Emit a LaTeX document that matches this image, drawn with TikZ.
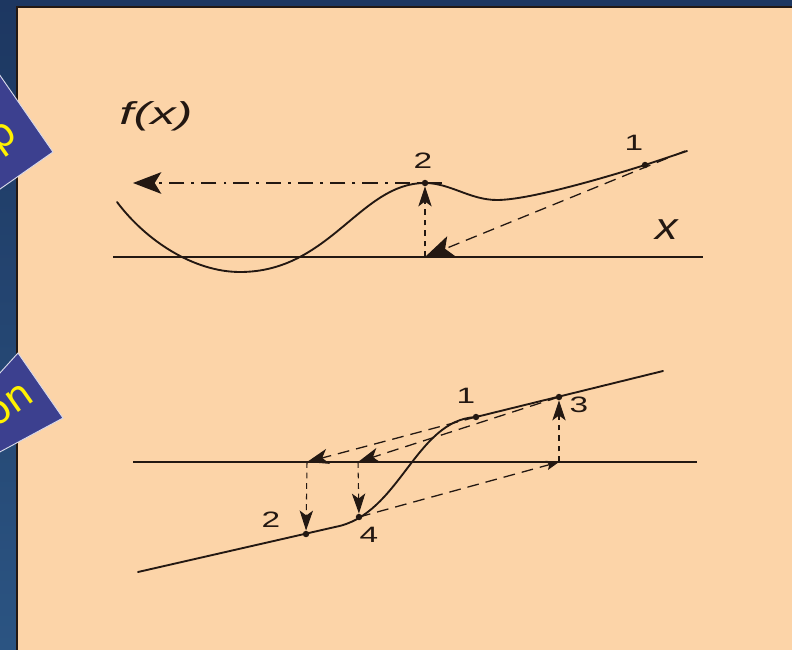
\documentclass[tikz,border=0pt]{standalone}
\usepackage{fontspec}
\setmainfont{Liberation Sans}
\newfontfamily\tagfont{DejaVu Sans}
\usetikzlibrary{arrows.meta}
\definecolor{ink}{RGB}{35,24,18}
\definecolor{peach}{RGB}{252,212,168}
\definecolor{bgtop}{RGB}{29,55,97}
\definecolor{bgbot}{RGB}{43,84,130}
\definecolor{tagblue}{RGB}{60,64,143}
\newcommand{\widetext}[2]{\scalebox{#1}[1]{#2}}
\tikzset{
    % line styles
    curve/.style={draw=ink, line width=1.6pt, line cap=round, line join=round},
    axis/.style={draw=ink, line width=1.5pt},
    tangent/.style={draw=ink, line width=1.1pt, dash pattern=on 10pt off 6pt},
    level/.style={draw=ink, line width=1.1pt, dash pattern=on 13pt off 6pt on 2.5pt off 6pt},
    drop/.style={draw=ink, line width=0.9pt, dash pattern=on 5pt off 4pt},
    % arrow tips
    big arrow/.style={-{Stealth[length=8.5mm, width=6.5mm, inset=2mm]}},
    axis arrow/.style={-{Stealth[length=6.5mm, width=4.6mm, inset=1.8mm]}},
    mid arrow/.style={-{Stealth[length=6mm, width=4mm, inset=1.5mm]}},
    small arrow/.style={-{Stealth[length=3.8mm, width=2.8mm, inset=0.8mm]}},
    % nodes
    dot/.style={circle, fill=ink, inner sep=0pt, minimum size=5.5pt},
    num/.style={text=ink, inner sep=1pt, font=\fontsize{19}{19}\selectfont},
    tag/.style={fill=tagblue, draw=white!80!tagblue, line width=0.8pt},
    tag text/.style={text=yellow, rotate=35, inner sep=0pt, font=\tagfont\fontsize{34}{34}\selectfont},
}
\begin{document}
\begin{tikzpicture}[x=0.03cm, y=-0.03cm]
\useasboundingbox (0,0) rectangle (792,649);
\begin{scope}
    \clip (0,0) rectangle (792,649);
    % background and panel
    \fill[top color=bgtop, bottom color=bgbot] (0,0) rectangle (792,649);
    \fill[peach] (17,7) rectangle (800,660);
    \draw[line width=2pt, ink] (17,660) -- (17,7) -- (800,7);
    % side tags
    \filldraw[tag] (-10,61) -- (53,152) -- (-30,210) -- cycle;
    \filldraw[tag] (-20,395) -- (18,353) -- (63,418) -- (-30,468) -- cycle;
    \node[tag text] (tagp) at (5,140) {p};
    \node[tag text] (tagon) at (10,405) {on};
\end{scope}

% upper graph
\coordinate (ax1l) at (113,257);
\coordinate (ax1r) at (703,257);
\draw[axis] (ax1l) -- (ax1r);
\node[text=ink, font=\fontsize{27}{27}\selectfont\itshape] (fx) at (156,116) {\widetext{1.6}{f(x)}};
\node[text=ink, font=\fontsize{32}{32}\selectfont\itshape] (xlab) at (667,230) {\widetext{1.2}{x}};
\draw[curve] (117,202) .. controls (147,242) and (195,272) .. (240,272)
    .. controls (330,272) and (360,183) .. (425,183)
    .. controls (450,183) and (470,200) .. (497,200)
    .. controls (530,200) and (610,176) .. (645,165) -- (687,151);
\node[dot] (t2) at (425,183) {};
\node[dot] (t1) at (645,165) {};
\node[num] (n2) at (423,161) {\widetext{1.5}{2}};
\node[num] (n1) at (634,143) {\widetext{1.5}{1}};
\coordinate (e1) at (685,151);
\coordinate (a2) at (425,257);
\coordinate (h2) at (442,183);
\coordinate (hend) at (133,183);
\draw[tangent, big arrow] (e1) -- (a2);
\draw[drop, mid arrow] (a2) -- (t2);
\draw[level, big arrow] (h2) -- (hend);

% lower graph
\coordinate (ax2l) at (133,462);
\coordinate (ax2r) at (697,462);
\draw[axis] (ax2l) -- (ax2r);
\draw[curve] (138,572) -- (335,527) .. controls (400,515) and (415,420) .. (476,417) -- (663,371);
\node[dot] (b2) at (306,534) {};
\node[dot] (b4) at (359,517) {};
\node[dot] (b1) at (476,417) {};
\node[dot] (b3) at (559,397) {};
\node[num] (m1) at (466,396) {\widetext{1.5}{1}};
\node[num] (m3) at (579,405) {\widetext{1.5}{3}};
\node[num] (m2) at (271,520) {\widetext{1.5}{2}};
\node[num] (m4) at (369,535) {\widetext{1.5}{4}};
\coordinate (x2) at (307,462);
\coordinate (x4) at (358,462);
\coordinate (x3) at (559,462);
\draw[tangent, axis arrow] (b1.center) -- (x2);
\draw[tangent, axis arrow] (b3.center) -- (x4);
\draw[tangent, small arrow] (b4.center) -- (x3);
\draw[drop, mid arrow] (x2) -- (b2);
\draw[drop, mid arrow] (x4) -- (b4);
\draw[drop, mid arrow] (x3) -- (b3);
\end{tikzpicture}
\end{document}
